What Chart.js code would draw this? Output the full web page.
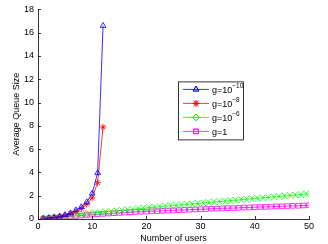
<!DOCTYPE html>
<html>
<head>
<meta charset="utf-8">
<script src="https://cdn.jsdelivr.net/npm/chart.js@4.4.0/dist/chart.umd.min.js"></script>
<style>
  html, body { margin: 0; padding: 0; background: #fff; }
  #wrap { width: 328px; height: 244px; }
</style>
</head>
<body>
<div id="wrap"><canvas id="c" width="328" height="244"></canvas></div>
<script>
// data
const usersShort = [1, 2, 3, 4, 5, 6, 7, 8, 9, 10, 11, 12];
const usersLong = [];
for (let i = 1; i <= 50; i++) usersLong.push(i);

const gMinus10 = [0.02, 0.07, 0.13, 0.22, 0.35, 0.5, 0.76, 1.03, 1.45, 2.2, 3.95, 16.6];
const gMinus8 = [0.02, 0.06, 0.12, 0.2, 0.3, 0.45, 0.65, 0.9, 1.26, 1.82, 3.12, 7.9];
const gMinus6 = [0.08, 0.13, 0.17, 0.21, 0.25, 0.3, 0.35, 0.4, 0.45, 0.5,
                 0.55, 0.59, 0.63, 0.67, 0.72, 0.76, 0.8, 0.85, 0.9, 0.95,
                 1.0, 1.04, 1.08, 1.12, 1.16, 1.2, 1.24, 1.28, 1.32, 1.36,
                 1.4, 1.44, 1.48, 1.52, 1.56, 1.6, 1.64, 1.68, 1.72, 1.76,
                 1.8, 1.84, 1.88, 1.92, 1.96, 2.0, 2.04, 2.08, 2.12, 2.16];
const gOne = [0.03, 0.07, 0.1, 0.14, 0.18, 0.22, 0.26, 0.3, 0.34, 0.38,
              0.41, 0.44, 0.47, 0.5, 0.52, 0.55, 0.57, 0.6, 0.62, 0.64,
              0.66, 0.68, 0.7, 0.72, 0.74, 0.76, 0.78, 0.8, 0.82, 0.84,
              0.86, 0.88, 0.89, 0.91, 0.93, 0.94, 0.96, 0.98, 0.99, 1.01,
              1.03, 1.04, 1.06, 1.08, 1.09, 1.11, 1.13, 1.14, 1.16, 1.18];

const xTicks = [0, 10, 20, 30, 40, 50];
const yTicks = [0, 2, 4, 6, 8, 10, 12, 14, 16, 18];

const legendLabels = [
  { base: 'g=10', sup: '\u221210' },
  { base: 'g=10', sup: '\u22128' },
  { base: 'g=10', sup: '\u22126' },
  { base: 'g=1', sup: '' }
];

const FONT = '"Liberation Sans", Arial, sans-serif';

function pts(xs, ys) {
  return xs.map((x, i) => ({ x: x, y: ys[i] }));
}

function series(data, color, style) {
  return {
    data: data,
    showLine: true,
    borderColor: color,
    borderWidth: 0.8,
    pointStyle: style,
    pointRadius: 3.3,
    pointBorderColor: color,
    pointBorderWidth: 0.8,
    pointBackgroundColor: 'rgba(0,0,0,0)',
    pointHoverRadius: 3.3
  };
}

const datasets = [
  series(pts(usersShort, gMinus10), '#0000ff', 'triangle'),
  series(pts(usersShort, gMinus8), '#ff0000', 'star'),
  series(pts(usersLong, gMinus6), '#00ff00', 'rectRot'),
  series(pts(usersLong, gOne), '#ff00ff', 'rect')
];

// inward ticks, matlab style
const innerTicks = {
  id: 'innerTicks',
  afterDatasetsDraw(chart) {
    const ctx = chart.ctx;
    const a = chart.chartArea;
    const xs = chart.scales.x, ys = chart.scales.y;
    ctx.save();
    ctx.strokeStyle = '#000';
    ctx.lineWidth = 0.8;
    ctx.beginPath();
    xTicks.forEach(v => {
      const px = Math.round(xs.getPixelForValue(v)) + 0.5;
      ctx.moveTo(px, a.bottom);
      ctx.lineTo(px, a.bottom - 3);
    });
    yTicks.forEach(v => {
      const py = Math.round(ys.getPixelForValue(v)) + 0.5;
      ctx.moveTo(a.left, py);
      ctx.lineTo(a.left + 3, py);
    });
    ctx.stroke();
    ctx.restore();
  }
};

// legend box inside the plot
const boxLegend = {
  id: 'boxLegend',
  afterDraw(chart) {
    const ctx = chart.ctx;
    const a = chart.chartArea;
    const bx = a.left + 140, by = a.top + 72, bw = 65, bh = 58;
    ctx.save();
    ctx.fillStyle = '#fff';
    ctx.fillRect(bx, by, bw, bh);
    ctx.strokeStyle = '#000';
    ctx.lineWidth = 0.8;
    ctx.strokeRect(bx + 0.5, by + 0.5, bw, bh);
    chart.data.datasets.forEach((ds, i) => {
      const y = by + 8 + i * 14;
      ctx.strokeStyle = ds.borderColor;
      ctx.lineWidth = 0.8;
      ctx.beginPath();
      ctx.moveTo(bx + 5, y);
      ctx.lineTo(bx + 31, y);
      ctx.stroke();
      ctx.fillStyle = 'rgba(0,0,0,0)';
      Chart.helpers.drawPoint(ctx, {
        pointStyle: ds.pointStyle,
        rotation: 0,
        radius: 3.3,
        borderWidth: 0.8
      }, bx + 18, y);
      ctx.stroke();
      const lab = legendLabels[i];
      ctx.fillStyle = '#000';
      ctx.textBaseline = 'middle';
      ctx.textAlign = 'left';
      ctx.font = '9px ' + FONT;
      ctx.fillText(lab.base, bx + 34, y + 1);
      if (lab.sup) {
        const w = ctx.measureText(lab.base).width;
        ctx.font = '6.5px ' + FONT;
        ctx.fillText(lab.sup, bx + 34 + w, y - 3);
      }
    });
    ctx.restore();
  }
};

new Chart(document.getElementById('c'), {
  type: 'scatter',
  data: { datasets: datasets },
  plugins: [innerTicks, boxLegend],
  options: {
    responsive: false,
    animation: false,
    layout: { padding: { top: 5, right: 19, left: 11, bottom: 0 } },
    plugins: {
      legend: { display: false },
      tooltip: { enabled: false }
    },
    scales: {
      x: {
        type: 'linear',
        min: 0,
        max: 50,
        afterBuildTicks: s => { s.ticks = xTicks.map(v => ({ value: v })); },
        afterFit: s => { s.height = 25; },
        grid: { display: true, drawOnChartArea: false, drawTicks: false },
        border: { display: true, color: '#000', width: 0.8 },
        ticks: { color: '#000', font: { size: 9, family: FONT }, padding: 2, maxRotation: 0 },
        title: { display: true, text: 'Number of users', color: '#000', font: { size: 9, family: FONT }, padding: { top: 0, bottom: 0 } }
      },
      y: {
        min: 0,
        max: 18,
        afterBuildTicks: s => { s.ticks = yTicks.map(v => ({ value: v })); },
        afterFit: s => { s.width = 27; },
        grid: { display: true, drawOnChartArea: false, drawTicks: false },
        border: { display: true, color: '#000', width: 0.8 },
        ticks: { color: '#000', font: { size: 9, family: FONT }, padding: 4 },
        title: { display: true, text: 'Average Queue Size', color: '#000', font: { size: 9, family: FONT }, padding: { top: 0, bottom: 0 } }
      }
    }
  }
});
</script>
</body>
</html>
